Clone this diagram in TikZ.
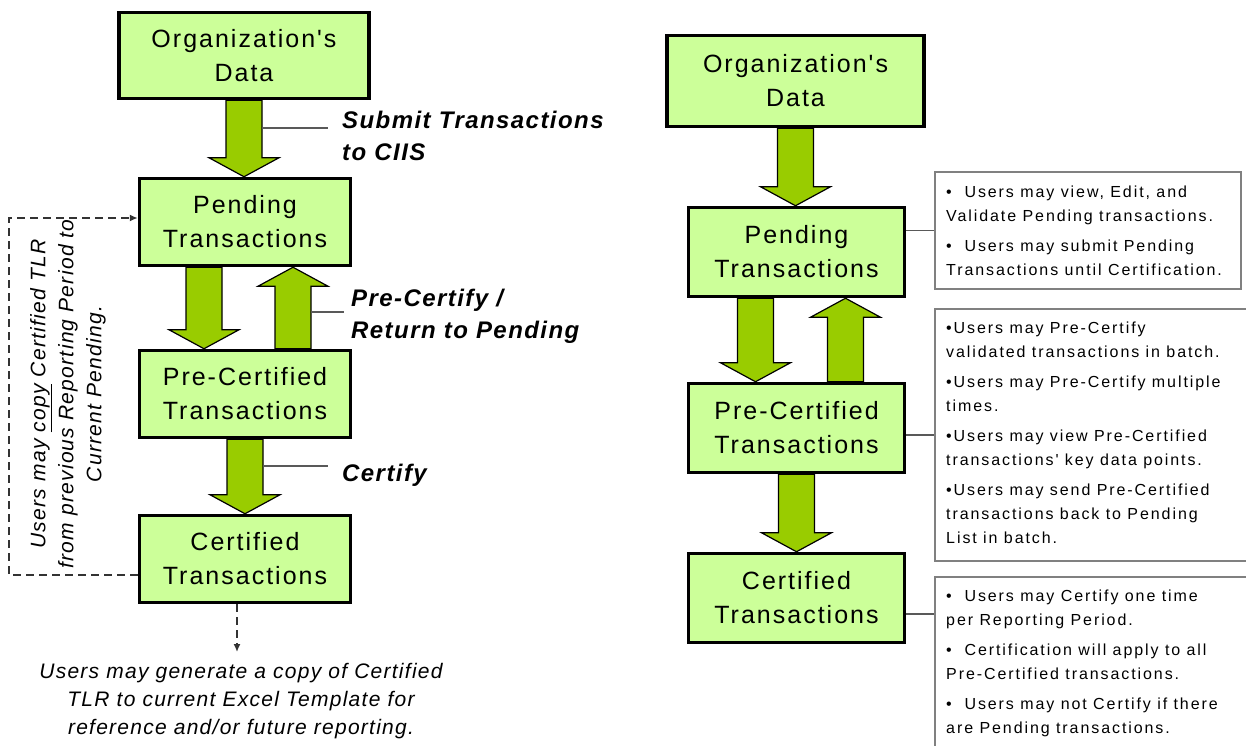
\documentclass[tikz,border=0pt]{standalone}
\usepackage{fontspec}
\usetikzlibrary{arrows.meta}
\usetikzlibrary{backgrounds}
\usetikzlibrary{calc}

\newfontfamily\boxfont{Liberation Sans}[LetterSpace=8]
\newfontfamily\notefont{Liberation Sans}[LetterSpace=12]
\newfontfamily\labelfont{Liberation Sans}[LetterSpace=6]
\newfontfamily\remarkfont{Liberation Sans}[LetterSpace=6]

\definecolor{boxgreen}{HTML}{CCFF99}
\definecolor{arrowgreen}{HTML}{99CC00}
\definecolor{notegray}{HTML}{808080}

\tikzset{
	stage/.style={draw=black, line width=3.5pt, fill=boxgreen, align=center, inner sep=0pt,
		font=\boxfont\fontsize{25}{34}\selectfont},
	blockarrow/.style={draw=black, line width=1.2pt, fill=arrowgreen, line join=miter},
	leader/.style={draw=black!65, line width=1.5pt},
	steplabel/.style={anchor=west, align=left, inner sep=0pt,
		font=\labelfont\bfseries\itshape\fontsize{24}{32}\selectfont},
	notebox/.style={draw=notegray, line width=1.6pt, anchor=north west, inner sep=0pt},
	notetext/.style={anchor=north west, align=left, inner sep=0pt,
		font=\notefont\fontsize{16}{24}\selectfont},
	remark/.style={align=center, inner sep=0pt, font=\remarkfont\itshape\fontsize{21}{28}\selectfont},
	dashline/.style={draw=black!80, line width=1.5pt, dash pattern=on 8pt off 5pt,
		-{Latex[length=8pt,width=7pt]}}
}

% dicker Blockpfeil von #1 nach #2 (senkrecht)
\newcommand{\fatarrow}[2]{%
	\draw[blockarrow] let \p1=(#1), \p2=(#2), \n1={19*sign(\y1-\y2)} in
		(\x1-18pt,\y1) -- (\x1+18pt,\y1) -- (\x1+18pt,\y2+\n1) -- (\x1+35pt,\y2+\n1)
		-- (\x1,\y2) -- (\x1-35pt,\y2+\n1) -- (\x1-18pt,\y2+\n1) -- cycle;}

\begin{document}
\begin{tikzpicture}[x=1pt, y=1pt]
\useasboundingbox (0,0) rectangle (1246,745);
\clip (0,0) rectangle (1246,745);

% Kaesten links
\node[stage, minimum width=250, minimum height=86] (orgL) at (244,689.5) {Organization's\\Data};
\node[stage, minimum width=211, minimum height=87] (pendL) at (245,523) {Pending\\Transactions};
\node[stage, minimum width=211, minimum height=87] (preL) at (245,351) {Pre-Certified\\Transactions};
\node[stage, minimum width=211, minimum height=87] (certL) at (245,186) {Certified\\Transactions};

% Kaesten rechts
\node[stage, minimum width=257, minimum height=91] (orgR) at (795.5,664) {Organization's\\Data};
\node[stage, minimum width=216, minimum height=89] (pendR) at (796.5,493) {Pending\\Transactions};
\node[stage, minimum width=216, minimum height=89] (preR) at (796.5,317) {Pre-Certified\\Transactions};
\node[stage, minimum width=216, minimum height=89] (certR) at (796.5,147) {Certified\\Transactions};

% Gruene Pfeile
\begin{scope}[on background layer]
	\fill[white] (0,0) rectangle (1246,745);
	\fatarrow{orgL.south}{pendL.north}
	\fatarrow{[xshift=-41pt]pendL.south}{[xshift=-41pt]preL.north}
	\fatarrow{[xshift=48pt]preL.north}{[xshift=48pt]pendL.south}
	\fatarrow{preL.south}{certL.north}
	\fatarrow{orgR.south}{pendR.north}
	\fatarrow{[xshift=-41pt]pendR.south}{[xshift=-41pt]preR.north}
	\fatarrow{[xshift=49pt]preR.north}{[xshift=49pt]pendR.south}
	\fatarrow{preR.south}{certR.north}
\end{scope}

% Beschriftung der Pfeile
\node[steplabel] (submit) at (342,609) {Submit Transactions\\to CIIS};
\node[steplabel] (precert) at (351,429) {Pre-Certify /\\Return to Pending};
\node[steplabel] (certify) at (342,270) {Certify};
\coordinate (k1) at (262,617);
\coordinate (k2) at (311,433);
\coordinate (k3) at (263,279);
\draw[leader, shorten >=14pt] (k1) -- (k1 -| submit.west);
\draw[leader, shorten >=7pt] (k2) -- (k2 -| precert.west);
\draw[leader, shorten >=14pt] (k3) -- (k3 -| certify.west);

% Kopieren (gestrichelt)
\coordinate (d1) at ([yshift=-16pt]certL.west);
\coordinate (d2) at ([yshift=4pt]pendL.west);
\coordinate (dc) at (9,0);
\draw[dashline] (d1) -- (d1 -| dc) -- (d2 -| dc) -- (d2);
\node[remark, rotate=90] (copytxt) at (68,351)
	{Users may \underline{copy} Certified TLR\\from previous Reporting Period to\\Current Pending.};

\node[remark] (gentxt) at (241,44)
	{Users may generate a copy of Certified\\TLR to current Excel Template for\\reference and/or future reporting.};
\coordinate (g1) at ([xshift=-8pt]certL.south);
\draw[dashline, shorten >=11pt] (g1) -- (g1 |- gentxt.north);

% Notizen rechts
\node[notebox, minimum width=306, minimum height=117] (note1) at (934,574) {};
\node[notebox, minimum width=340, minimum height=252] (note2) at (934,437) {};
\node[notebox, minimum width=340, minimum height=200] (note3) at (934,169) {};
\draw[leader] (note1.west -| pendR.east) -- (note1.west);
\draw[leader] (note2.west -| preR.east) -- (note2.west);
\coordinate (c3) at ([yshift=-16pt]certR.east);
\draw[leader] (c3) -- (c3 -| note3.west);

\node[notetext] (note1txt) at ([xshift=12pt, yshift=-15pt]note1.north west)
	{\textbullet\ \ Users may view, Edit, and\\Validate Pending transactions.\\[6pt]
	 \textbullet\ \ Users may submit Pending\\Transactions until Certification.};
\node[notetext] (note2txt) at ([xshift=12pt, yshift=-14pt]note2.north west)
	{\textbullet Users may Pre-Certify\\validated transactions in batch.\\[6pt]
	 \textbullet Users may Pre-Certify multiple\\times.\\[6pt]
	 \textbullet Users may view Pre-Certified\\transactions' key data points.\\[6pt]
	 \textbullet Users may send Pre-Certified\\transactions back to Pending\\List in batch.};
\node[notetext] (note3txt) at ([xshift=12pt, yshift=-14pt]note3.north west)
	{\textbullet\ \ Users may Certify one time\\per Reporting Period.\\[6pt]
	 \textbullet\ \ Certification will apply to all\\Pre-Certified transactions.\\[6pt]
	 \textbullet\ \ Users may not Certify if there\\are Pending transactions.};
\end{tikzpicture}
\end{document}
